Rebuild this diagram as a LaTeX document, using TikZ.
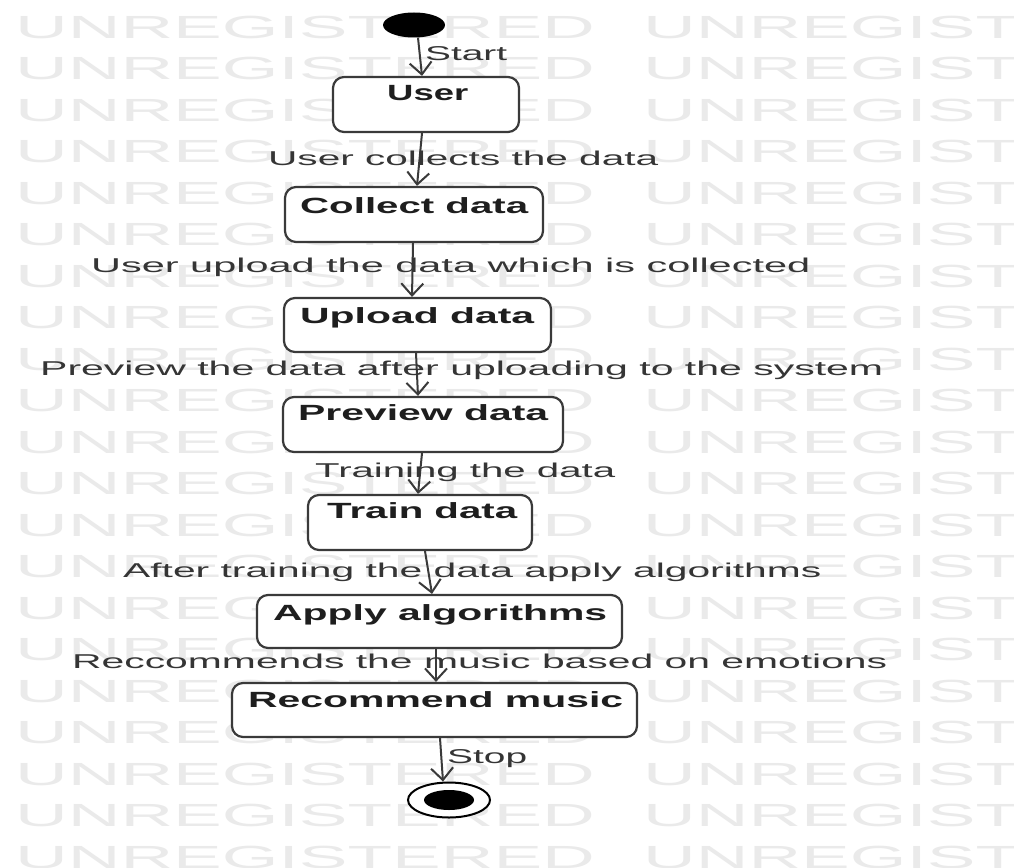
\documentclass[tikz,border=0pt]{standalone}
\usepackage{fontspec}
\setmainfont{Liberation Sans}
\usetikzlibrary{arrows.meta,shapes.geometric}

\definecolor{ink}{HTML}{3A3A3A}
\definecolor{labelink}{HTML}{353535}
\definecolor{titleink}{HTML}{1E1E1E}
\definecolor{wmgray}{HTML}{EAEAEA}

% stretch a text to a given width, keeping its height
\newcommand\fitw[2]{\resizebox{#1}{\height}{#2}}

\begin{document}
\begin{tikzpicture}[x=1pt,y=-1pt,
  statebox/.style 2 args={draw=ink, line width=2.2pt, fill=white,
    rounded corners=11pt, minimum width=#1, minimum height=#2, inner sep=0pt},
  boxtitle/.style={inner sep=0pt, anchor=base west, text=titleink,
    font=\bfseries\fontsize{22}{26}\selectfont},
  flowlabel/.style={inner sep=0pt, anchor=base west, text=labelink,
    font=\fontsize{20}{24}\selectfont},
  wm/.style={inner sep=0pt, anchor=base west, text=wmgray,
    font=\fontsize{32}{32}\selectfont},
  flow/.style={draw=ink, line width=2pt,
    -{Straight Barb[length=12pt, width=22pt, line width=2pt]}}
]
\useasboundingbox (0,0) rectangle (1014,867);
\fill[white] (0,0) rectangle (1014,867);

% background watermark rows
\begin{scope}
  \clip (0,0) rectangle (1014,867);
  \foreach \i in {0,...,20}{
    \node[wm] (wmA\i) at (15,{38+41.5*\i}) {\scalebox{2.28}[1]{UNREGISTERED}};
    \node[wm] (wmB\i) at (643,{38+41.5*\i}) {\scalebox{2.28}[1]{UNREGIST}};
  }
\end{scope}

% initial and final states
\node[ellipse, fill=black, minimum width=62pt, minimum height=25pt, inner sep=0pt] (start) at (414,25) {};
\node[ellipse, draw=black, line width=2pt, fill=white, minimum width=82pt, minimum height=35pt, inner sep=0pt] (stop) at (449,800) {};
\node[ellipse, fill=black, minimum width=50pt, minimum height=20pt, inner sep=0pt] (stopdot) at (449,800) {};

% activity states
\node[statebox={186pt}{55pt}] (user)      at (426,104.5) {};
\node[statebox={258pt}{55pt}] (collect)   at (414,214.5) {};
\node[statebox={267pt}{54pt}] (upload)    at (417.5,325) {};
\node[statebox={280pt}{55pt}] (preview)   at (423,424.5) {};
\node[statebox={224pt}{55pt}] (train)     at (420,522.5) {};
\node[statebox={365pt}{53pt}] (apply)     at (439.5,621.5) {};
\node[statebox={405pt}{54pt}] (recommend) at (434.5,710) {};

% state names
\node[boxtitle] (userT)      at (387,100) {\fitw{81pt}{User}};
\node[boxtitle] (collectT)   at (300,213) {\fitw{228pt}{Collect data}};
\node[boxtitle] (uploadT)    at (300,323) {\fitw{234pt}{Upload data}};
\node[boxtitle] (previewT)   at (298,420) {\fitw{250pt}{Preview data}};
\node[boxtitle] (trainT)     at (327,518) {\fitw{190pt}{Train data}};
\node[boxtitle] (applyT)     at (273,620) {\fitw{334pt}{Apply algorithms}};
\node[boxtitle] (recommendT) at (248,707) {\fitw{375pt}{Recommend music}};

% transitions
\draw[flow] ([xshift=4pt]start.south) -- ([xshift=-4pt]user.north);
\draw[flow] ([xshift=-4pt]user.south) -- ([xshift=3pt]collect.north);
\draw[flow] ([xshift=-1pt]collect.south) -- ([xshift=-5.5pt]upload.north);
\draw[flow] ([xshift=-1.5pt]upload.south) -- ([xshift=-5pt]preview.north);
\draw[flow] ([xshift=-1pt]preview.south) -- ([xshift=-2pt]train.north);
\draw[flow] ([xshift=5pt]train.south) -- ([xshift=-7.5pt]apply.north);
\draw[flow] ([xshift=-3.5pt]apply.south) -- ([xshift=1.5pt]recommend.north);
\draw[flow] ([xshift=5.5pt]recommend.south) -- ([xshift=-6pt]stop.north);

% transition labels
\node[flowlabel] (lStart)   at (425,60)  {\fitw{82pt}{Start}};
\node[flowlabel] (lCollect) at (268,165) {\fitw{390pt}{User collects the data}};
\node[flowlabel] (lUpload)  at (91,272)  {\fitw{719pt}{User upload the data which is collected}};
\node[flowlabel] (lPreview) at (40,375)  {\fitw{843pt}{Preview the data after uploading to the system}};
\node[flowlabel] (lTrain)   at (315,477) {\fitw{300pt}{Training the data}};
\node[flowlabel] (lApply)   at (123,577) {\fitw{698pt}{After training the data apply algorithms}};
\node[flowlabel] (lMusic)   at (72,668)  {\fitw{815pt}{Reccommends the music based on emotions}};
\node[flowlabel] (lStop)    at (447,763) {\fitw{80pt}{Stop}};
\end{tikzpicture}
\end{document}
